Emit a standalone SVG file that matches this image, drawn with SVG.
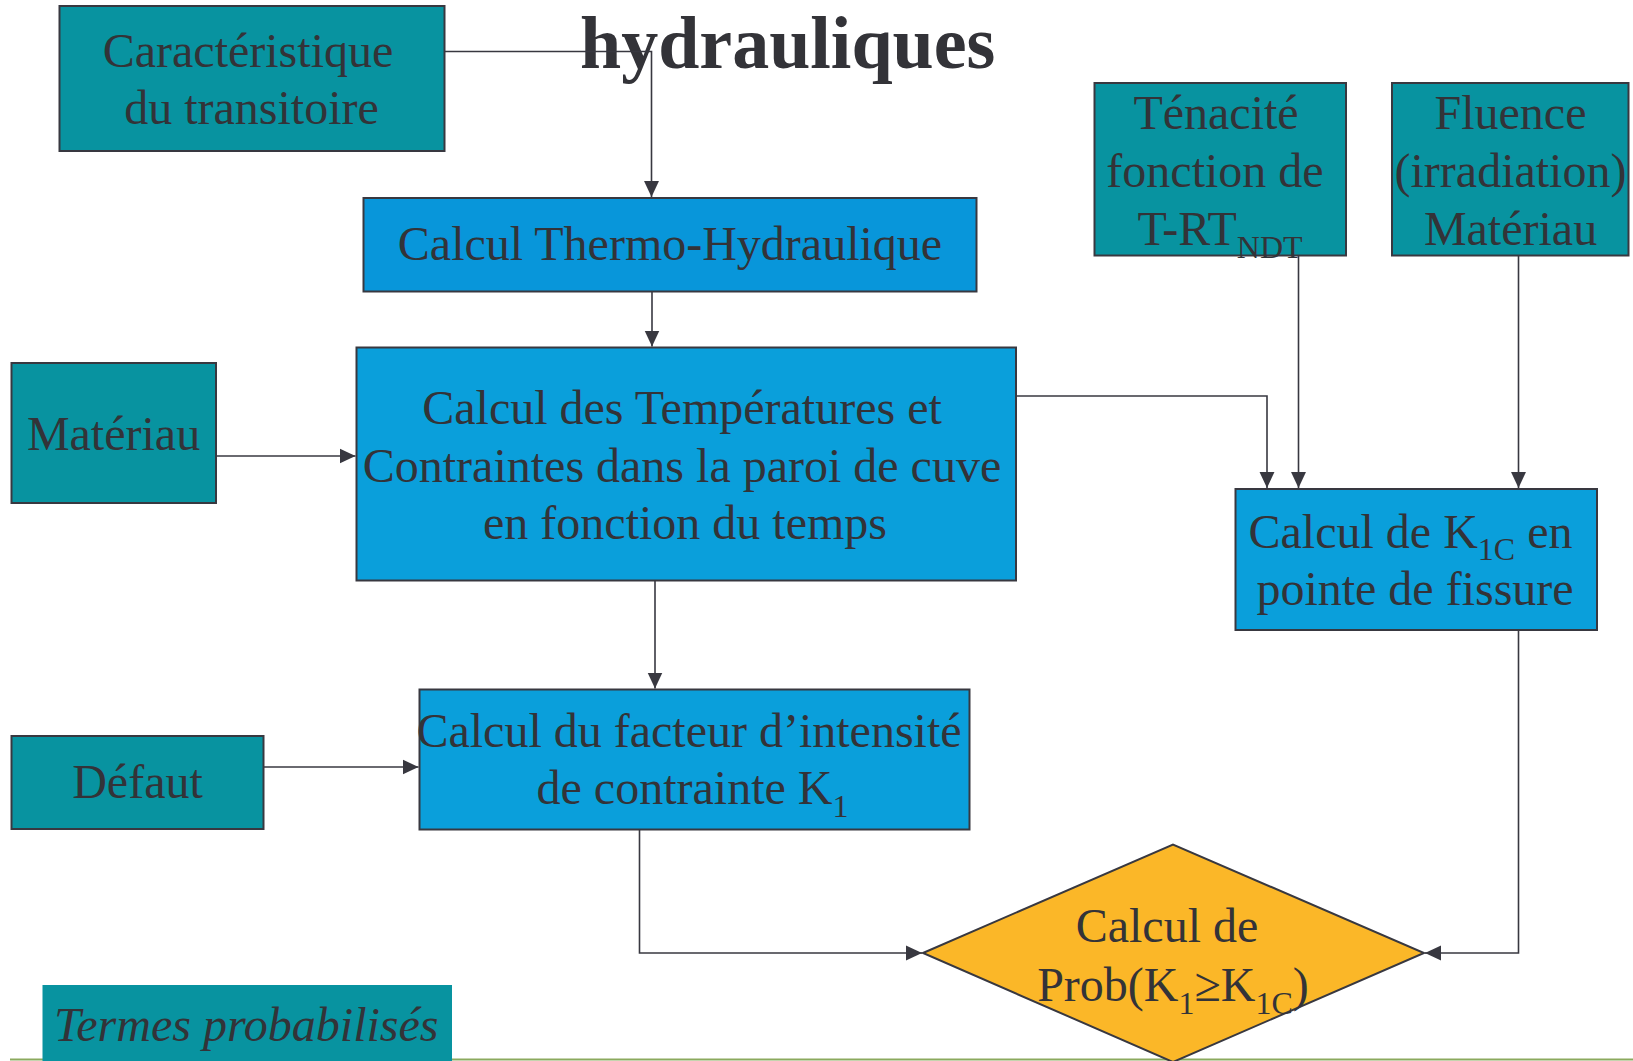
<svg xmlns="http://www.w3.org/2000/svg" width="1633" height="1061" viewBox="0 0 1633 1061">
<style>
.t{font-family:"Liberation Serif","Times New Roman",serif;font-size:48px;fill:#333338}
.teal{fill:#0893A0;stroke:#383840;stroke-width:2}
.blue1{fill:#0896DA;stroke:#383840;stroke-width:2}
.blue2{fill:#0A9FDB;stroke:#383840;stroke-width:2}
.dia{fill:#FBB728;stroke:#383840;stroke-width:2}
.c{fill:none;stroke:#383840;stroke-width:1.6;marker-end:url(#ah)}
.s{font-size:32px}
</style>
<defs>
<marker id="ah" markerUnits="userSpaceOnUse" markerWidth="16" markerHeight="16" viewBox="0 0 15 14" refX="15" refY="7" orient="auto">
<path d="M0,0 L15,7 L0,14 Z" fill="#383840"/>
</marker>
</defs>
<rect width="1633" height="1061" fill="#ffffff"/>
<line x1="10" y1="1059.5" x2="1633" y2="1059.5" stroke="#8BAA5E" stroke-width="2"/>
<text x="580" y="68" style="font-family:'Liberation Serif','Times New Roman',serif;font-weight:bold;font-size:74px;fill:#333338">hydrauliques</text>

<g id="n-caracteristique">
<rect class="teal" x="59.5" y="6" width="385" height="145"/>
<text class="t" text-anchor="middle" x="248" y="66.5">Caractéristique</text>
<text class="t" text-anchor="middle" x="251.5" y="124">du transitoire</text>
</g>
<g id="n-thermo">
<rect class="blue1" x="363.5" y="198" width="613" height="93.5"/>
<text class="t" text-anchor="middle" x="670" y="260">Calcul Thermo-Hydraulique</text>
</g>
<g id="n-materiau">
<rect class="teal" x="11.5" y="363" width="204.5" height="140"/>
<text class="t" text-anchor="middle" x="113.5" y="450">Matériau</text>
</g>
<g id="n-temp">
<rect class="blue2" x="356.5" y="347.5" width="659.5" height="233"/>
<text class="t" text-anchor="middle" x="682" y="424">Calcul des Températures et</text>
<text class="t" text-anchor="middle" x="682" y="481.5">Contraintes dans la paroi de cuve</text>
<text class="t" text-anchor="middle" x="685" y="538.5">en fonction du temps</text>
</g>
<g id="n-defaut">
<rect class="teal" x="11.5" y="736" width="252" height="93"/>
<text class="t" text-anchor="middle" x="137.5" y="798">Défaut</text>
</g>
<g id="n-facteur">
<rect class="blue2" x="419.5" y="689.5" width="550" height="140"/>
<text class="t" text-anchor="middle" x="689" y="746.5">Calcul du facteur d’intensité</text>
<text class="t" text-anchor="middle" x="692.5" y="804">de contrainte K<tspan class="s" dy="13">1</tspan></text>
</g>
<g id="n-tenacite">
<rect class="teal" x="1094.5" y="83" width="251.5" height="172.5"/>
<text class="t" text-anchor="middle" x="1216" y="128.5">Ténacité</text>
<text class="t" text-anchor="middle" x="1215" y="187">fonction de</text>
<text class="t" text-anchor="middle" x="1220" y="244.5">T-RT<tspan class="s" dy="13">NDT</tspan></text>
</g>
<g id="n-fluence">
<rect class="teal" x="1392" y="83" width="236.5" height="172.5"/>
<text class="t" text-anchor="middle" x="1510.5" y="128.5">Fluence</text>
<text class="t" text-anchor="middle" x="1510.5" y="187">(irradiation)</text>
<text class="t" text-anchor="middle" x="1510.5" y="244.5">Matériau</text>
</g>
<g id="n-k1c">
<rect class="blue2" x="1235.5" y="489" width="361.5" height="141"/>
<text class="t" text-anchor="middle" x="1410.5" y="547.5">Calcul de K<tspan class="s" dy="12">1C</tspan><tspan dy="-12"> en</tspan></text>
<text class="t" text-anchor="middle" x="1415" y="605">pointe de fissure</text>
</g>
<g id="n-prob">
<polygon class="dia" points="923,953 1173,844.5 1424,953 1173,1062"/>
<text class="t" text-anchor="middle" x="1167" y="942">Calcul de</text>
<text class="t" text-anchor="middle" x="1173" y="1000.5">Prob(K<tspan class="s" dy="13">1</tspan><tspan dy="-13">≥K</tspan><tspan class="s" dy="13">1C</tspan><tspan dy="-13">)</tspan></text>
</g>
<g id="n-legend">
<rect x="42.5" y="985" width="409.5" height="76" fill="#0893A0"/>
<text class="t" x="54" y="1041" style="font-style:italic;font-size:48px">Termes probabilisés</text>
</g>

<g id="connectors">
<path class="c" d="M444.5,51.5 H651.5 V197"/>
<path class="c" d="M652,291.5 V346.5"/>
<path class="c" d="M216,456 H355.5"/>
<path class="c" d="M655,580.5 V688.5"/>
<path class="c" d="M263.5,767 H418.5"/>
<path class="c" d="M1016,396 H1267 V488"/>
<path class="c" d="M1298.5,255.5 V488"/>
<path class="c" d="M1518.5,255.5 V488"/>
<path class="c" d="M639.5,829.5 V953 H922"/>
<path class="c" d="M1518.5,630 V953 H1425"/>
</g>
</svg>
